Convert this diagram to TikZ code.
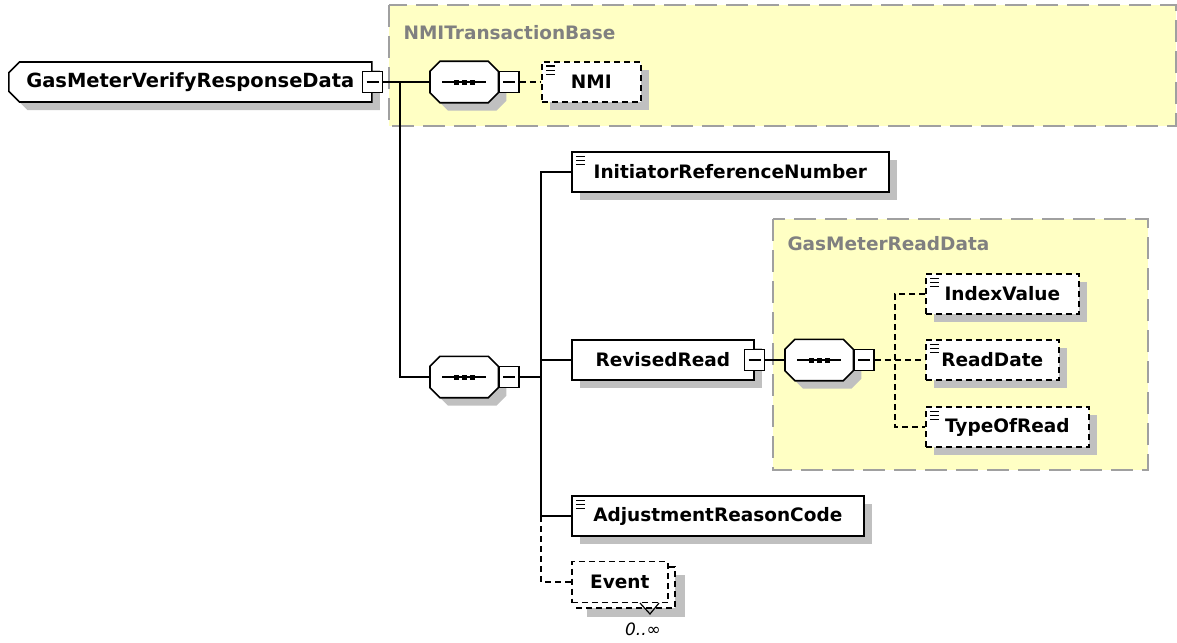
\documentclass[tikz,border=0pt]{standalone}
\usepackage{fontspec}
\setmainfont{DejaVu Sans}
\usetikzlibrary{shapes.misc,shadows}
\definecolor{groupfill}{HTML}{FFFFC4}
\definecolor{groupline}{HTML}{A0A0A0}
\definecolor{shadowgray}{HTML}{C0C0C0}
\def\labelfont{\bfseries\fontsize{18.5}{22}\selectfont}
\def\octpath#1{([xshift=10pt]#1.north west) -- ([xshift=-10pt]#1.north east) -- ([yshift=-10pt]#1.north east)
	-- ([yshift=10pt]#1.south east) -- ([xshift=-10pt]#1.south east) -- ([xshift=10pt]#1.south west)
	-- ([yshift=10pt]#1.south west) -- ([yshift=-10pt]#1.north west) -- cycle}
\newcommand\seqnode[2]{%
	\node[seqspot] (#1) at (#2) {};
	\node[seqspot] (#1s) at ([xshift=8pt,yshift=-8pt]#1.west) {};
	\fill[shadowgray] \octpath{#1s};
	\filldraw[fill=white, line width=1.6pt] \octpath{#1};
	\draw[line width=1.2pt] ([xshift=-22pt]#1.center) -- ([xshift=22pt]#1.center);
	\foreach \d in {-8,0,8}
		\fill ([xshift=\d pt]#1.center) +(-2.5,-2.5) rectangle +(2.5,2.5);
}
\tikzset{
	box/.style={draw, line width=1.6pt, fill=white, minimum height=40pt, anchor=west, inner xsep=8pt, font=\labelfont},
	elem/.style={box, drop shadow={shadow xshift=8pt, shadow yshift=-8pt, fill=shadowgray, opacity=1}},
	opt/.style={dash pattern=on 6pt off 4pt},
	simple/.style={path picture={
		\foreach \k in {4,8,12}
			\draw[black, solid, line width=1pt] ([xshift=4pt,yshift=-\k pt]path picture bounding box.north west) -- ++(9,0);}},
	seqspot/.style={rectangle, minimum width=68pt, minimum height=41pt, inner sep=0pt, anchor=west},
	minus/.style={draw, line width=1.2pt, fill=white, minimum width=20pt, minimum height=21pt, inner sep=0pt,
		path picture={\draw[black, line width=1.2pt] ([xshift=4pt]path picture bounding box.west) -- ([xshift=-4pt]path picture bounding box.east);}},
	group/.style={draw=groupline, fill=groupfill, line width=2pt, dash pattern=on 22pt off 9pt},
	grouplabel/.style={anchor=west, text=black!50, font=\labelfont},
	link/.style={line width=1.6pt},
}

\begin{document}
\begin{tikzpicture}[x=1pt,y=-1pt]
	\useasboundingbox (0,0) rectangle (1177,642);
	% base types
	\draw[group] (389,5) rectangle (1176,126);
	\node[grouplabel] (nmibase) at (400,33) {NMITransactionBase};
	\draw[group] (773,219) rectangle (1148,470);
	\node[grouplabel] (readdata) at (784,244) {GasMeterReadData};

	\node[elem, chamfered rectangle, chamfered rectangle corners={north west,south west}, chamfered rectangle xsep=7pt,
		minimum width=363pt, minimum height=40pt, font=\bfseries\fontsize{19.5}{22}\selectfont] (root) at (8,82) {GasMeterVerifyResponseData};
	\node[minus] (rootm) at (root.east) {};

	\seqnode{seq1}{430,82}
	\node[minus, anchor=west] (seq1m) at (seq1.east) {};
	\node[elem, opt, simple, minimum width=99pt] (nmi) at (541,82) {NMI};

	\seqnode{seq2}{430,377}
	\node[minus, anchor=west] (seq2m) at (seq2.east) {};
	\node[elem, simple, minimum width=317pt] (irn) at (571,172) {InitiatorReferenceNumber};
	\node[elem, minimum width=182pt] (rread) at (571,360) {RevisedRead};
	\node[minus] (rreadm) at (rread.east) {};
	\node[elem, simple, minimum width=292pt] (arc) at (571,516) {AdjustmentReasonCode};

	% repeated element
	\fill[shadowgray] (587,575) rectangle (685,617);
	\draw[opt, line width=1.6pt, fill=white] (577,567) rectangle (675,608);
	\node[box, opt, minimum width=96pt, minimum height=41pt] (event) at (571,582) {Event};
	\draw[line width=1.2pt] (640,603) -- (650,614) -- (659,603);
	\node[font=\itshape\fontsize{17}{19}\selectfont] (eventocc) at (643,629) {0..∞};

	\seqnode{seq3}{785,360}
	\node[minus, anchor=west] (seq3m) at (seq3.east) {};
	\node[elem, opt, simple, minimum width=153pt] (ival) at (925,294) {IndexValue};
	\node[elem, opt, simple, minimum width=133pt] (rdate) at (925,360) {ReadDate};
	\node[elem, opt, simple, minimum width=163pt] (tread) at (925,427) {TypeOfRead};

	\coordinate (fork) at (400,82);
	\coordinate (bus) at (541,377);
	\coordinate (bus3) at (895,360);
	\draw[link] (rootm.east) -- (seq1.west);
	\draw[link] (fork) |- (seq2.west);
	\draw[link, opt] (seq1m.east) -- (nmi.west);
	\draw[link] (seq2m.east) -- (bus);
	\draw[link] (irn.west) -| (bus) |- (arc.west);
	\draw[link] (rread.west) -- (rread.west -| bus);
	\draw[link, opt] (arc.west -| bus) |- (event.west);
	\draw[link] (rreadm.east) -- (seq3.west);
	\draw[link, opt] (seq3m.east) -- (bus3);
	\draw[link, opt] (ival.west) -| (bus3) |- (tread.west);
	\draw[link, opt] (bus3) -- (rdate.west);
\end{tikzpicture}
\end{document}
